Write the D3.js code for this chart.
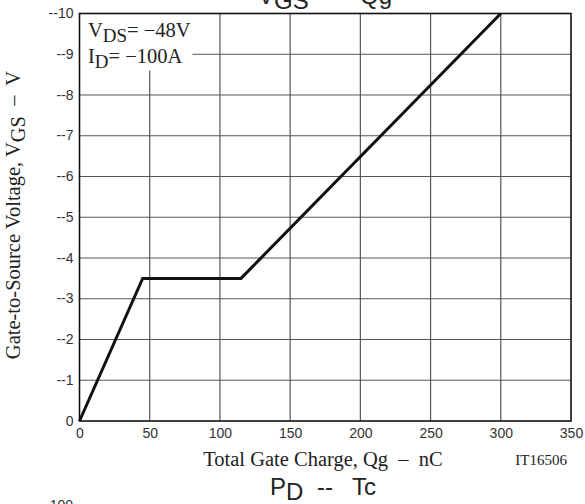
<!DOCTYPE html>
<html><head><meta charset="utf-8">
<script src="https://cdn.jsdelivr.net/npm/d3@7"></script>
<style>body{margin:0;background:#fff}svg{display:block}</style>
</head><body>
<script>
const qg = [0, 45, 115, 300];
const vgs = [0, -3.5, -3.5, -10];
const xTicks = [0, 50, 100, 150, 200, 250, 300, 350];
const yTicks = [0, -1, -2, -3, -4, -5, -6, -7, -8, -9, -10];
const condLines = [["V", "DS", "= \u221248V"], ["I", "D", "= \u2212100A"]];

const W = 585, H = 504;
const sans = "'Liberation Sans', Arial, sans-serif";
const serif = "'Liberation Serif', 'Times New Roman', serif";
const svg = d3.select("body").append("svg").attr("width", W).attr("height", H);

const x = d3.scaleLinear().domain([0, 350]).range([79.5, 571]);
const y = d3.scaleLinear().domain([0, -10]).range([421, 13.5]);

// grid
svg.append("g").selectAll("line").data(xTicks.slice(1, -1)).join("line")
  .attr("x1", d => x(d)).attr("x2", d => x(d)).attr("y1", y(0)).attr("y2", y(-10))
  .attr("stroke", "#555").attr("stroke-width", 1.2);
svg.append("g").selectAll("line").data(yTicks.slice(1, -1)).join("line")
  .attr("y1", d => y(d)).attr("y2", d => y(d)).attr("x1", x(0)).attr("x2", x(350))
  .attr("stroke", "#555").attr("stroke-width", 1.2);

// annotation box
svg.append("rect").attr("x", x(0)).attr("y", y(-10)).attr("width", 113).attr("height", 57).attr("fill", "#fff");
condLines.forEach((c, i) => {
  const t = svg.append("text").attr("x", 88).attr("y", 37 + i * 26)
    .attr("font-family", serif).attr("font-size", 20.5).attr("fill", "#222");
  t.append("tspan").text(c[0]);
  t.append("tspan").text(c[1]).attr("dy", 5).attr("font-size", 19);
  t.append("tspan").text(c[2]).attr("dy", -5);
});

// frame
svg.append("rect").attr("x", x(0)).attr("y", y(-10)).attr("width", x(350) - x(0)).attr("height", y(0) - y(-10))
  .attr("fill", "none").attr("stroke", "#111").attr("stroke-width", 1.6);

// curve
svg.append("path").datum(qg.map((q, i) => [q, vgs[i]]))
  .attr("d", d3.line().x(d => x(d[0])).y(d => y(d[1])))
  .attr("fill", "none").attr("stroke", "#111").attr("stroke-width", 3).attr("stroke-linejoin", "miter");

// axes labels
const xAxis = d3.axisBottom(x).tickValues(xTicks).tickSize(0).tickPadding(0).tickFormat(d3.format("d"));
const gx = svg.append("g").attr("transform", `translate(0,${y(0)})`).call(xAxis);
gx.select(".domain").remove();
gx.selectAll("text").attr("font-family", sans).attr("font-size", 14).attr("fill", "#333").attr("dy", "1.2em");

const yAxis = d3.axisLeft(y).tickValues(yTicks).tickSize(0).tickPadding(6)
  .tickFormat(d => d === 0 ? "0" : "--" + Math.abs(d));
const gy = svg.append("g").attr("transform", `translate(${x(0)},0)`).call(yAxis);
gy.select(".domain").remove();
gy.selectAll("text").attr("font-family", sans).attr("font-size", 14).attr("fill", "#333").attr("dy", "0.3em");

// x title
svg.append("text").attr("x", 323).attr("y", 466).attr("text-anchor", "middle")
  .attr("font-family", serif).attr("font-size", 20.5).attr("fill", "#222")
  .style("white-space", "pre").text("Total Gate Charge, Qg  \u2013  nC");
svg.append("text").attr("x", 567).attr("y", 465).attr("text-anchor", "end")
  .attr("font-family", serif).attr("font-size", 15).attr("fill", "#222").text("IT16506");

// y title
const yt = svg.append("text").attr("transform", "translate(20,215) rotate(-90)").attr("text-anchor", "middle")
  .attr("font-family", serif).attr("font-size", 20.5).attr("fill", "#222").style("white-space", "pre");
yt.append("tspan").text("Gate-to-Source Voltage, V");
yt.append("tspan").text("GS").attr("dy", 5);
yt.append("tspan").text("  \u2013  V").attr("dy", -5);

// chart titles (partially cut off, as in the reference)
const t1 = svg.append("text").attr("x", 258).attr("y", 4)
  .attr("font-family", sans).attr("font-size", 24).attr("fill", "#222");
t1.append("tspan").text("V");
t1.append("tspan").text("GS").attr("dy", 5);
t1.append("tspan").text("--").attr("x", 322).attr("dy", -5);
t1.append("tspan").text("Qg").attr("x", 360);

const t2 = svg.append("text").attr("x", 270).attr("y", 495)
  .attr("font-family", sans).attr("font-size", 24).attr("fill", "#222");
t2.append("tspan").text("P");
t2.append("tspan").text("D").attr("dy", 5);
t2.append("tspan").text("--").attr("x", 317).attr("dy", -5);
t2.append("tspan").text("Tc").attr("x", 352);

svg.append("text").attr("x", 73).attr("y", 510).attr("text-anchor", "end")
  .attr("font-family", sans).attr("font-size", 14).attr("fill", "#333").text("100");
</script>
</body></html>
